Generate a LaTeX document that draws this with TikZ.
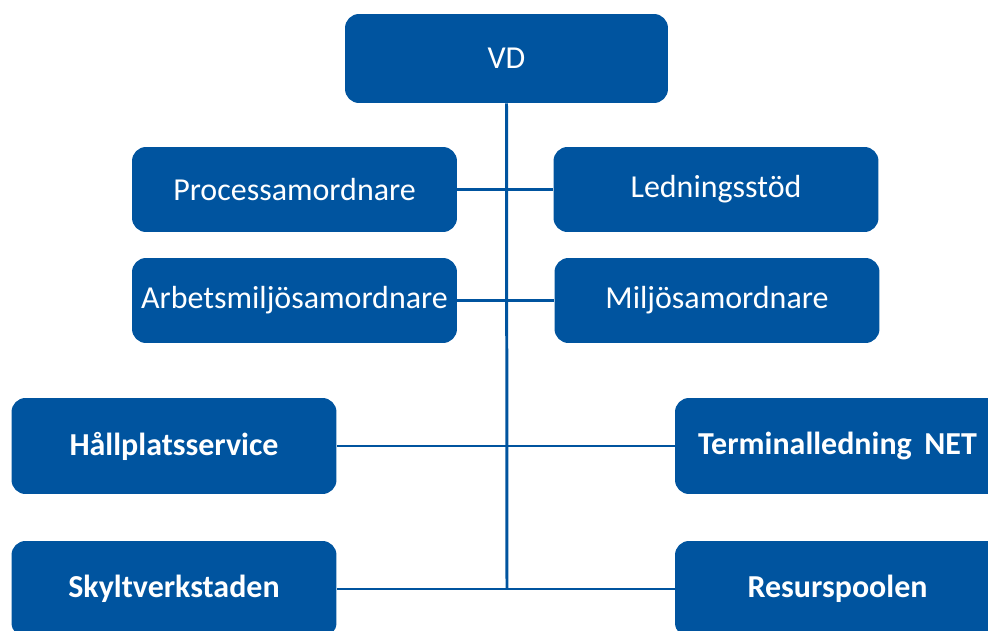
\documentclass[tikz,border=0pt]{standalone}
\usepackage{fontspec}
\setmainfont{Carlito}
\definecolor{orgblue}{RGB}{0,84,159}

\begin{document}
\begin{tikzpicture}[x=0.02cm,y=-0.02cm,
		unit/.style={rectangle,rounded corners=0.28cm,fill=orgblue,text=white,
			minimum width=6.5cm,minimum height=1.7cm,inner sep=0pt,
			font=\fontsize{18.2}{21}\selectfont},
		dept/.style={unit,minimum height=1.92cm,font=\fontsize{18.2}{21}\selectfont\bfseries},
		link/.style={draw=orgblue,line width=1.7pt}]
	\useasboundingbox (0,0) rectangle (988,631);
	\clip (0,0) rectangle (988,631);
	% ledning
	\node[unit,minimum width=6.46cm,minimum height=1.78cm] (vd) at (506.5,58.5) {VD};
	% stab
	\node[unit] (proc)   at (294.5,189.5) {Processamordnare};
	\node[unit] (ledst)  at (716,189.5)   {Ledningsstöd};
	\node[unit] (arbmil) at (294.5,300.5) {Arbetsmiljösamordnare};
	\node[unit] (milj)   at (717,300.5)   {Miljösamordnare};
	% avdelningar
	\node[dept] (hall)   at (174,446) {Hållplatsservice};
	\node[dept] (term)   at (837.5,446) {Terminalledning\, NET};
	\node[dept] (skylt)  at (174,589) {Skyltverkstaden};
	\node[dept] (resurs) at (837.5,589) {Resurspoolen};
	\coordinate (foot) at (507,589);
	\path[link]
		(vd.south) edge (foot)
		(proc.east) edge (ledst.west)
		(arbmil.east) edge (milj.west)
		(hall.east) edge (term.west)
		(skylt.east) edge (resurs.west);
\end{tikzpicture}
\end{document}
